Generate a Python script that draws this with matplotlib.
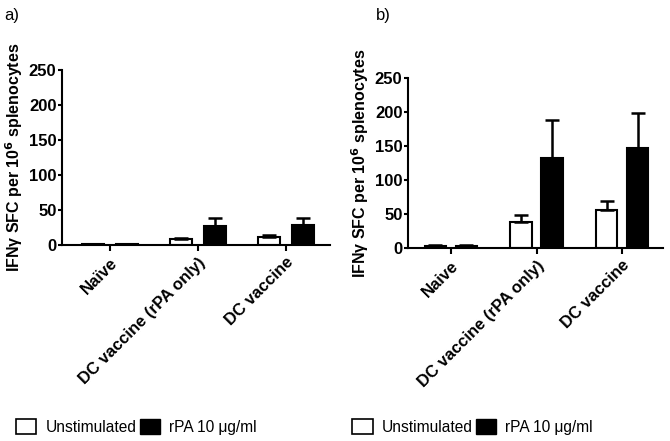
import numpy as np
import matplotlib.pyplot as plt
from matplotlib.patches import Patch

plt.rcParams['font.family'] = ['Liberation Sans', 'DejaVu Sans']

# data
groups = ['Naïve', 'DC vaccine (rPA only)', 'DC vaccine']
groups_b = ['Naive', 'DC vaccine (rPA only)', 'DC vaccine']
unstim_a = [1, 8, 11]
unstim_a_err = [0.5, 2, 3]
rpa_a = [1, 27, 29]
rpa_a_err = [0.5, 11, 10]
unstim_b = [3, 38, 56]
unstim_b_err = [1, 11, 13]
rpa_b = [3, 132, 147]
rpa_b_err = [1, 56, 51]
yticks = [0, 50, 100, 150, 200, 250]

fig = plt.figure(figsize=(6.7, 4.41), dpi=100)
ax_a = fig.add_axes([0.0925, 0.4444, 0.40, 0.397])
ax_b = fig.add_axes([0.609, 0.4376, 0.381, 0.3855])

def panel(ax, labels, u, ue, r, re, xlim, off):
    x = np.arange(len(labels))
    w = 0.25
    ax.bar(x - off, u, w, color='white', edgecolor='black', linewidth=1.5)
    ax.bar(x + off, r, w, color='black', edgecolor='black', linewidth=1.5)
    ax.errorbar(x - off, u, yerr=[np.zeros(3), ue], fmt='none', ecolor='black',
                elinewidth=1.8, capsize=5, capthick=1.8)
    ax.errorbar(x + off, r, yerr=[np.zeros(3), re], fmt='none', ecolor='black',
                elinewidth=1.8, capsize=5, capthick=1.8)
    ax.set_xlim(*xlim)
    ax.set_ylim(0, 250)
    ax.set_yticks(yticks)
    ax.set_xticks(x)
    ax.set_xticklabels(labels, rotation=45, ha='right', rotation_mode='anchor',
                       fontsize=12, fontweight='bold')
    for t in ax.get_yticklabels():
        t.set_fontsize(12)
        t.set_fontweight('bold')
    ax.spines['top'].set_visible(False)
    ax.spines['right'].set_visible(False)
    ax.spines['left'].set_linewidth(1.5)
    ax.spines['bottom'].set_linewidth(1.5)
    ax.tick_params(axis='y', width=1.5, length=3, pad=1)
    ax.tick_params(axis='x', width=1.5, length=4, pad=3)
    ax.set_ylabel('IFNγ SFC per 10$^\\mathbf{6}$ splenocytes', fontsize=11.5,
                  fontweight='bold', labelpad=3)

panel(ax_a, groups, unstim_a, unstim_a_err, rpa_a, rpa_a_err, (-0.545, 2.5), 0.19)
panel(ax_b, groups_b, unstim_b, unstim_b_err, rpa_b, rpa_b_err, (-0.50, 2.48), 0.18)

fig.text(0.006, 0.965, 'a)', fontsize=12, va='center')
fig.text(0.561, 0.965, 'b)', fontsize=12, va='center')

handles = [Patch(facecolor='white', edgecolor='black', linewidth=1.2, label='Unstimulated'),
           Patch(facecolor='black', edgecolor='black', label='rPA 10 μg/ml')]
for x0 in [0.003, 0.505]:
    fig.legend(handles=handles, loc='center left', bbox_to_anchor=(x0, 0.032),
               ncol=2, frameon=False, fontsize=11.2, handlelength=1.3,
               handleheight=1.1, handletextpad=0.6, columnspacing=0.2)

fig.savefig('out.png', dpi=100)
